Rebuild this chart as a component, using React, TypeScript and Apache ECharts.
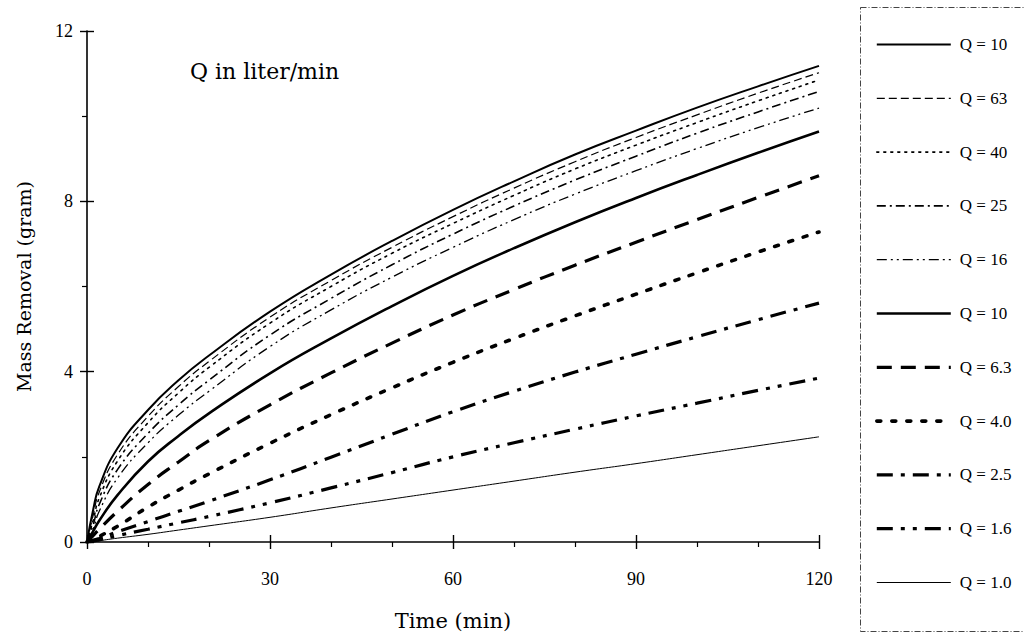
import React, { useEffect, useRef } from "react";
import * as echarts from "echarts";

const times = [0, 1, 2, 5, 10, 15, 20, 30, 40, 50, 60, 70, 80, 90, 100, 110, 120];

const seriesNames = ["Q = 100", "Q = 63", "Q = 40", "Q = 25", "Q = 16", "Q = 10", "Q = 6.3", "Q = 4.0", "Q = 2.5", "Q = 1.6", "Q = 1.0"];

const q100 = [0, 0.75, 1.3, 2.2, 3.1, 3.8, 4.38, 5.41, 6.28, 7.07, 7.8, 8.47, 9.1, 9.66, 10.2, 10.7, 11.18];
const q63 = [0, 0.62, 1.17, 2.05, 2.95, 3.65, 4.24, 5.28, 6.14, 6.92, 7.64, 8.31, 8.93, 9.5, 10.03, 10.54, 11.02];
const q40 = [0, 0.5, 1.03, 1.9, 2.8, 3.5, 4.1, 5.14, 6.0, 6.78, 7.48, 8.14, 8.76, 9.32, 9.85, 10.36, 10.85];
const q25 = [0, 0.4, 0.88, 1.7, 2.55, 3.22, 3.8, 4.86, 5.72, 6.51, 7.23, 7.89, 8.5, 9.06, 9.6, 10.1, 10.58];
const q16 = [0, 0.3, 0.72, 1.5, 2.33, 2.98, 3.54, 4.59, 5.45, 6.22, 6.92, 7.57, 8.17, 8.72, 9.24, 9.73, 10.19];
const q10 = [0, 0.25, 0.5, 1.1, 1.89, 2.49, 3.02, 3.96, 4.78, 5.54, 6.25, 6.9, 7.51, 8.08, 8.62, 9.14, 9.64];
const q6_3 = [0, 0.15, 0.3, 0.72, 1.35, 1.88, 2.38, 3.22, 3.97, 4.67, 5.33, 5.93, 6.5, 7.04, 7.57, 8.09, 8.6];
const q4_0 = [0, 0.06, 0.13, 0.37, 0.82, 1.22, 1.6, 2.32, 2.99, 3.62, 4.22, 4.78, 5.31, 5.82, 6.32, 6.81, 7.28];
const q2_5 = [0, 0.04, 0.08, 0.24, 0.48, 0.72, 0.96, 1.46, 1.99, 2.53, 3.06, 3.54, 3.99, 4.41, 4.82, 5.22, 5.61];
const q1_6 = [0, 0.02, 0.05, 0.15, 0.3, 0.45, 0.6, 0.92, 1.27, 1.63, 2.0, 2.33, 2.65, 2.96, 3.26, 3.56, 3.85];
const q1_0 = [0, 0.01, 0.03, 0.09, 0.18, 0.28, 0.38, 0.58, 0.8, 1.01, 1.22, 1.43, 1.64, 1.84, 2.05, 2.26, 2.47];

const seriesValues = [q100, q63, q40, q25, q16, q10, q6_3, q4_0, q2_5, q1_6, q1_0];

const xTicks = [0, 30, 60, 90, 120];
const yTicks = [0, 4, 8, 12];

const lineStyles: any[] = [
  { width: 2, type: "solid" },
  { width: 1.2, type: [8, 4] },
  { width: 1.6, type: [2, 5], cap: "round" },
  { width: 1.6, type: [9, 4, 2, 4] },
  { width: 1.3, type: [10, 4, 2, 4, 2, 4] },
  { width: 2.6, type: "solid" },
  { width: 3.2, type: [15, 9] },
  { width: 3.6, type: [4, 11], cap: "round" },
  { width: 3.2, type: [16, 8, 4, 8] },
  { width: 3.2, type: [16, 8, 4, 8, 4, 8] },
  { width: 1, type: "solid" },
];

const FONT = "Liberation Serif";
const WIDE = "DejaVu Serif";

export default function App() {
  const ref = useRef<HTMLDivElement>(null);
  useEffect(() => {
    if (!ref.current) return;
    const chart = echarts.init(ref.current, null, { renderer: "svg" });
    const series = seriesNames.map((name, i) => ({
      name,
      type: "line",
      smooth: true,
      symbol: "none",
      data: times.map((t, j) => [t, seriesValues[i][j]]),
      lineStyle: { color: "#000", ...lineStyles[i] },
      itemStyle: { color: "#000" },
      z: 3,
    }));
    const axisLabelStyle = { color: "#000", fontFamily: FONT, fontSize: 18 };
    chart.setOption({
      animation: false,
      backgroundColor: "#fff",
      grid: { left: 87, right: 205, top: 31, bottom: 98 },
      xAxis: [
        {
          type: "value",
          min: 0,
          max: 120,
          interval: 30,
          name: "Time (min)",
          nameLocation: "middle",
          nameGap: 68,
          nameTextStyle: { color: "#000", fontFamily: WIDE, fontSize: 21 },
          axisLine: { show: true, lineStyle: { color: "#000", width: 1.6 } },
          axisTick: { show: true, length: 7, lineStyle: { color: "#000", width: 1.4 } },
          minorTick: { show: true, splitNumber: 3, length: 5, lineStyle: { color: "#000", width: 1.2 } },
          axisLabel: { ...axisLabelStyle, margin: 28, formatter: (v: number) => (xTicks.includes(v) ? String(v) : "") },
          splitLine: { show: false },
        },
        {
          type: "value",
          min: 0,
          max: 120,
          interval: 30,
          position: "bottom",
          axisLine: { show: false },
          axisTick: { show: true, inside: true, length: 7, lineStyle: { color: "#000", width: 1.4 } },
          axisLabel: { show: false },
          splitLine: { show: false },
        },
      ],
      yAxis: [
        {
          type: "value",
          min: 0,
          max: 12,
          interval: 4,
          name: "Mass Removal (gram)",
          nameLocation: "middle",
          nameGap: 54,
          nameTextStyle: { color: "#000", fontFamily: WIDE, fontSize: 19 },
          axisLine: { show: true, lineStyle: { color: "#000", width: 1.6 } },
          axisTick: { show: true, length: 7, lineStyle: { color: "#000", width: 1.4 } },
          minorTick: { show: true, splitNumber: 2, length: 5, lineStyle: { color: "#000", width: 1.2 } },
          axisLabel: { ...axisLabelStyle, margin: 14, formatter: (v: number) => (yTicks.includes(v) ? String(v) : "") },
          splitLine: { show: false },
        },
        {
          type: "value",
          min: 0,
          max: 12,
          interval: 4,
          position: "left",
          axisLine: { show: false },
          axisTick: { show: true, inside: true, length: 7, lineStyle: { color: "#000", width: 1.4 } },
          axisLabel: { show: false },
          splitLine: { show: false },
        },
      ],
      legend: {
        orient: "vertical",
        left: 870,
        top: 31,
        itemWidth: 74,
        itemHeight: 14,
        itemGap: 36.8,
        itemStyle: { opacity: 0 },
        lineStyle: { width: "inherit", opacity: 1 },
        textStyle: { color: "#000", fontFamily: FONT, fontSize: 17, padding: [0, 0, 0, 4] },
        formatter: (name: string) => (name === "Q = 100" ? "Q = 10" : name),
        data: seriesNames,
      },
      graphic: [
        {
          type: "rect",
          shape: { x: 860.5, y: 7.5, width: 180, height: 624 },
          style: { fill: "none", stroke: "#444", lineWidth: 1, lineDash: [6, 2, 1, 2] },
          silent: true,
        },
        {
          type: "text",
          left: 190,
          top: 60,
          style: { text: "Q in liter/min", fontFamily: WIDE, fontSize: 22, fill: "#000" },
          silent: true,
        },
      ],
      series,
    });
    return () => chart.dispose();
  }, []);
  return <div ref={ref} style={{ position: "fixed", left: 0, top: 0, width: 1024, height: 640 }} />;
}
